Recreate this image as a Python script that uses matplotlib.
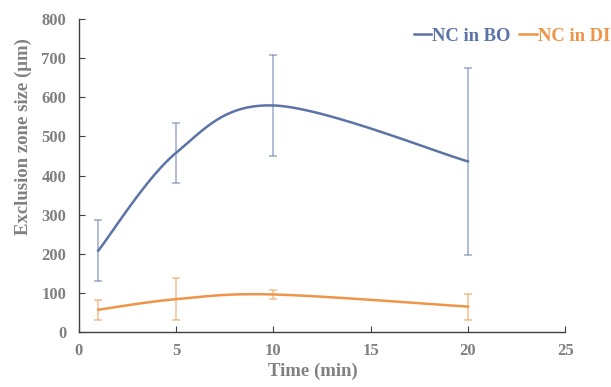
import matplotlib
matplotlib.use("Agg")
import matplotlib.pyplot as plt
import numpy as np

# data
time_min = [1, 5, 10, 20]
bo_mean = [208, 458, 579, 436]
bo_err = [78, 77, 128, 238]
di_mean = [57, 84, 96, 65]
di_err = [26, 54, 11, 33]

blue = "#5b73a6"
orange = "#ee9548"
grey = "#808080"

plt.rcParams['font.family'] = ['Liberation Serif', 'DejaVu Serif']
plt.rcParams['font.weight'] = 'bold'


def smooth_curve(ax, xs, ys, n=40):
	# excel-style smoothed line: bezier with catmull-rom control points,
	# worked out in display space then mapped back to data
	pts = ax.transData.transform(np.column_stack([xs, ys]))
	ext = np.vstack([pts[0], pts, pts[-1]])
	out = []
	t = np.linspace(0, 1, n)[:, None]
	for i in range(1, len(ext) - 2):
		p0, p1 = ext[i], ext[i + 1]
		c1 = p0 + (ext[i + 1] - ext[i - 1]) / 6.0
		c2 = p1 - (ext[i + 2] - ext[i]) / 6.0
		seg = ((1 - t) ** 3) * p0 + 3 * ((1 - t) ** 2) * t * c1 + 3 * (1 - t) * t ** 2 * c2 + t ** 3 * p1
		out.append(seg)
	out = np.vstack(out)
	return ax.transData.inverted().transform(out)


fig = plt.figure(figsize=(6.11, 3.87), dpi=100)
ax = fig.add_axes([0.129, 0.142, 0.796, 0.809])
ax.set_xlim(0, 25)
ax.set_ylim(0, 800)

for mean, err, col, lab in [(bo_mean, bo_err, blue, "NC in BO"), (di_mean, di_err, orange, "NC in DI")]:
	ax.errorbar(time_min, mean, yerr=err, fmt='none', ecolor=col, alpha=0.55,
				elinewidth=1.2, capsize=3, capthick=1.2)
	curve = smooth_curve(ax, time_min, mean)
	ax.plot(curve[:, 0], curve[:, 1], color=col, lw=1.8, label=lab)

ax.set_xticks(range(0, 26, 5))
ax.set_yticks(range(0, 801, 100))
ax.tick_params(direction='in', length=4, color='#404040', labelcolor=grey, labelsize=12)
ax.tick_params(axis='x', pad=8)
ax.tick_params(axis='y', pad=9)
for s in ['top', 'right']:
	ax.spines[s].set_visible(False)
for s in ['left', 'bottom']:
	ax.spines[s].set_color('#404040')
	ax.spines[s].set_linewidth(1.0)

ax.set_xlabel("Time (min)", color=grey, fontsize=13.5, fontweight='bold')
ax.set_ylabel("Exclusion zone size (μm)", color=grey, fontsize=13.5, fontweight='bold')
ax.xaxis.set_label_coords(0.481, -0.097)
ax.yaxis.set_label_coords(-0.097, 0.623)

leg = ax.legend(loc='center right', bbox_to_anchor=(610 / 611, 1 - 36 / 387),
				bbox_transform=fig.transFigure, ncol=2, frameon=False,
				handlelength=0.95, handletextpad=0.05, columnspacing=0.45,
				borderpad=0, borderaxespad=0,
				labelcolor='linecolor', prop={'size': 13.4, 'weight': 'bold'})

fig.savefig("out.png", dpi=100)
